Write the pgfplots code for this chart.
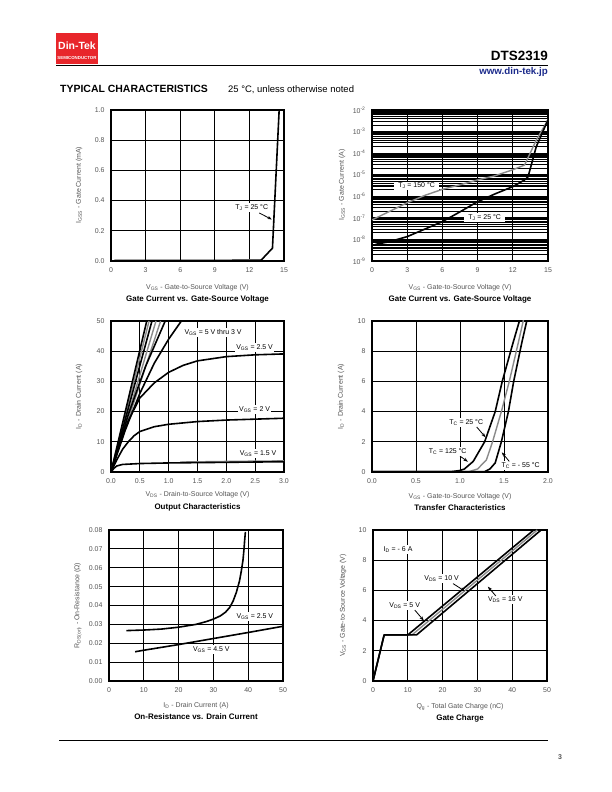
\documentclass[border=0pt]{standalone}
\usepackage{pgfplots}
\pgfplotsset{compat=1.18}
\usepackage{fontspec}
\setmainfont{Liberation Sans}
\usetikzlibrary{arrows.meta}
\definecolor{lgray}{HTML}{8A8A8A}
\definecolor{tgray}{HTML}{555555}
\definecolor{dtred}{HTML}{E8262B}
\definecolor{urlblue}{HTML}{1C2B8C}
\newcommand{\fs}[1]{\fontsize{#1}{#1}\selectfont}
\pgfplotsset{
  ds/.style={
    scale only axis, anchor=south west, height=151bp,
    axis line style={line width=1.3bp},
    grid=major, major grid style={line width=0.9bp, black},
    minor grid style={line width=1.1bp, black},
    major tick length=0pt, minor tick length=0pt,
    tick style={draw=none},
    /pgf/number format/assume math mode=true,
    tick label style={font=\fs{7}, text=tgray},
    xticklabel style={yshift=-3bp},
    yticklabel style={xshift=-3bp},
    scaled ticks=false,
  },
  crv/.style={black, line width=1.6bp, line join=round},
  grc/.style={lgray, line width=1.4bp, line join=round},
}
\tikzset{lab/.style={font=\fs{7}, fill=white, inner sep=1.5bp, text=black},
  arr/.style={-{Stealth[length=4.5bp,width=3.2bp]}, line width=0.8bp},
  xl/.style={font=\fs{7}, text=tgray},
  tl/.style={font=\bfseries\fs{8}, text=black}}
\begin{document}
\begin{tikzpicture}
\fill[white] (0,0) rectangle (612bp,792bp);
% ---------- header ----------
\fill[dtred] (56bp,728bp) rectangle (98bp,759bp);
\node[font=\bfseries\fs{10.5}, text=white] at (77bp,746.5bp) {Din-Tek};
\node[font=\bfseries\fs{4.4}, text=white] at (77bp,734bp) {SEMICONDUCTOR};
\draw[line width=1bp] (56bp,726.5bp) -- (548bp,726.5bp);
\node[font=\bfseries\fs{13.5}, anchor=base east, inner sep=0pt] at (548bp,731bp) {DTS2319};
\node[font=\bfseries\fs{9.8}, text=urlblue, anchor=base east, inner sep=0pt] at (548bp,717bp) {www.din-tek.jp};
\node[font=\bfseries\fs{10.5}, anchor=base west, inner sep=0pt] at (60bp,699bp) {TYPICAL CHARACTERISTICS};
\node[font=\fs{9.5}, anchor=base west, inner sep=0pt] at (228bp,699bp) {25 °C, unless otherwise noted};
% ---------- footer ----------
\draw[line width=1bp] (59bp,51bp) -- (548bp,51bp);
\node[font=\bfseries\fs{7}, text=tgray] at (560bp,35bp) {3};

% ---------- Plot 1 ----------
\begin{axis}[ds, at={(111bp,531bp)}, width=173bp,
  xmin=0, xmax=15, ymin=0, ymax=1,
  xtick={0,3,6,9,12,15}, ytick={0,0.2,0.4,0.6,0.8,1.0},
  yticklabels={0.0,0.2,0.4,0.6,0.8,1.0}]
\addplot[grc] coordinates {(10.5,0.008) (13,0.008)};
\addplot[crv] coordinates {(0.3,0.003) (13,0.004) (14,0.085) (14.58,1.0)};
\node[lab] at (axis cs:12.2,0.353) {T\textsubscript{J} = 25 °C};
\draw[arr] (axis cs:12.85,0.318) -- (axis cs:13.95,0.275);
\end{axis}
\node[rotate=90, xl] at (79bp,607bp) {I\textsubscript{GSS} - Gate Current (mA)};
\node[xl] at (197.5bp,504bp) {V\textsubscript{GS} - Gate-to-Source Voltage (V)};
\node[tl] at (197.5bp,492.5bp) {Gate Current vs. Gate-Source Voltage};

% ---------- Plot 2 ----------
\begin{axis}[ds, at={(372bp,531bp)}, width=176bp, ymode=log,
  xmin=0, xmax=15, ymin=1e-9, ymax=1e-2,
  xtick={0,3,6,9,12,15},
  ytick={1e-9,1e-8,1e-7,1e-6,1e-5,1e-4,1e-3,1e-2},
  yticklabels={10\textsuperscript{-9},10\textsuperscript{-8},10\textsuperscript{-7},10\textsuperscript{-6},10\textsuperscript{-5},10\textsuperscript{-4},10\textsuperscript{-3},10\textsuperscript{-2}},
  minor ytick={2e-9,3e-9,4e-9,5e-9,6e-9,7e-9,8e-9,9e-9,
    2e-8,3e-8,4e-8,5e-8,6e-8,7e-8,8e-8,9e-8,
    2e-7,3e-7,4e-7,5e-7,6e-7,7e-7,8e-7,9e-7,
    2e-6,3e-6,4e-6,5e-6,6e-6,7e-6,8e-6,9e-6,
    2e-5,3e-5,4e-5,5e-5,6e-5,7e-5,8e-5,9e-5,
    2e-4,3e-4,4e-4,5e-4,6e-4,7e-4,8e-4,9e-4,
    2e-3,3e-3,4e-3,5e-3,6e-3,7e-3,8e-3,9e-3},
  yminorgrids=true]
\addplot[grc] coordinates {(0,8e-8) (1.5,2e-7) (3,5e-7) (4.5,1.1e-6) (6,2.1e-6) (7.5,3.4e-6) (9,5.7e-6) (10.5,9e-6) (12,1.7e-5) (13,2.8e-5) (14,4e-4) (15,3.5e-3)};
\addplot[crv] coordinates {(0.3,5.9e-9) (1.5,7.9e-9) (3,1.35e-8) (4.5,3e-8) (6,6.7e-8) (7.5,1.9e-7) (9,5.6e-7) (10.5,1.3e-6) (12,2.8e-6) (13,5.7e-6) (13.3,8e-6) (14,2e-4) (15,3.5e-3)};
\node[lab, inner xsep=4bp] at (axis cs:3.8,3e-6) {T\textsubscript{J} = 150 °C};
\node[lab, inner xsep=4bp] at (axis cs:9.6,1e-7) {T\textsubscript{J} = 25 °C};
\end{axis}
\node[rotate=90, xl] at (342bp,607bp) {I\textsubscript{GSS} - Gate Current (A)};
\node[xl] at (460bp,504bp) {V\textsubscript{GS} - Gate-to-Source Voltage (V)};
\node[tl] at (460bp,492.5bp) {Gate Current vs. Gate-Source Voltage};

% ---------- Plot 3 ----------
\begin{axis}[ds, at={(111bp,320bp)}, width=173bp,
  xmin=0, xmax=3, ymin=0, ymax=50,
  xtick={0,0.5,1,1.5,2,2.5,3}, xticklabels={0.0,0.5,1.0,1.5,2.0,2.5,3.0},
  ytick={0,10,20,30,40,50}]
\addplot[grc] coordinates {(0,0) (0.66,50)};
\addplot[grc] coordinates {(0,0) (0.78,50)};
\addplot[grc] coordinates {(0,0) (0.86,50)};
\addplot[crv] coordinates {(0,0) (0.62,50)};
\addplot[crv] coordinates {(0,0) (0.71,50)};
\addplot[crv] coordinates {(0,0) (0.3,19) (0.6,35) (0.94,50)};
\addplot[crv] coordinates {(0,0) (0.25,14) (0.5,26) (0.75,36) (1.0,44) (1.22,50)};
\addplot[crv] coordinates {(0,0) (0.1,6) (0.2,12) (0.3,17) (0.5,24.5) (0.75,29.5) (1.0,33) (1.25,35.3) (1.5,36.8) (2.0,38.2) (2.5,38.8) (3.0,39.1)};
\addplot[crv] coordinates {(0,0) (0.1,4) (0.2,7.5) (0.3,10) (0.4,12) (0.5,13.4) (0.75,15) (1.0,15.8) (1.5,16.7) (2,17.2) (3,17.8)};
\addplot[grc] coordinates {(1.2,3.3) (2,3.5) (3,3.7)};
\addplot[crv] coordinates {(0,0) (0.05,1.2) (0.1,2) (0.2,2.5) (0.5,2.8) (1,3) (2,3.2) (3,3.4)};
\node[lab] at (axis cs:1.77,46.1) {V\textsubscript{GS} = 5 V thru 3 V};
\node[lab] at (axis cs:2.49,41.3) {V\textsubscript{GS} = 2.5 V};
\node[lab] at (axis cs:2.49,20.7) {V\textsubscript{GS} = 2 V};
\node[lab] at (axis cs:2.55,6.0) {V\textsubscript{GS} = 1.5 V};
\end{axis}
\node[rotate=90, xl] at (79bp,395.5bp) {I\textsubscript{D} - Drain Current (A)};
\node[xl] at (197.5bp,297bp) {V\textsubscript{DS} - Drain-to-Source Voltage (V)};
\node[tl] at (197.5bp,285bp) {Output Characteristics};

% ---------- Plot 4 ----------
\begin{axis}[ds, at={(372bp,320bp)}, width=176bp,
  xmin=0, xmax=2, ymin=0, ymax=10,
  xtick={0,0.5,1,1.5,2}, xticklabels={0.0,0.5,1.0,1.5,2.0},
  ytick={0,2,4,6,8,10}]
\addplot[grc] coordinates {(0,0.02) (1.1,0.02) (1.2,0.2) (1.3,0.8) (1.37,2) (1.47,4) (1.56,6) (1.66,8.5) (1.73,10.3)};
\addplot[crv] coordinates {(0,0.02) (0.9,0.02) (1.0,0.1) (1.05,0.2) (1.15,0.7) (1.28,2) (1.4,4) (1.48,6) (1.6,8.5) (1.69,10.3)};
\addplot[crv] coordinates {(0,0.02) (1.28,0.02) (1.34,0.2) (1.4,0.6) (1.47,2) (1.55,4) (1.61,6) (1.7,8.5) (1.77,10.3)};
\node[lab] at (axis cs:1.07,3.27) {T\textsubscript{C} = 25 °C};
\node[lab] at (axis cs:0.86,1.37) {T\textsubscript{C} = 125 °C};
\node[lab] at (axis cs:1.69,0.44) {T\textsubscript{C} = - 55 °C};
\draw[arr] (axis cs:1.19,2.98) -- (axis cs:1.29,2.3);
\draw[arr] (axis cs:1.0,1.05) -- (axis cs:1.09,0.68);
\draw[arr] (axis cs:1.56,0.7) -- (axis cs:1.475,1.3);
\end{axis}
\node[rotate=90, xl] at (341bp,395.5bp) {I\textsubscript{D} - Drain Current (A)};
\node[xl] at (460bp,295bp) {V\textsubscript{GS} - Gate-to-Source Voltage (V)};
\node[tl] at (460bp,284bp) {Transfer Characteristics};

% ---------- Plot 5 ----------
\begin{axis}[ds, at={(109bp,111bp)}, width=174bp,
  xmin=0, xmax=50, ymin=0, ymax=0.08,
  xtick={0,10,20,30,40,50},
  ytick={0,0.01,0.02,0.03,0.04,0.05,0.06,0.07,0.08},
  yticklabels={0.00,0.01,0.02,0.03,0.04,0.05,0.06,0.07,0.08}]
\addplot[crv] coordinates {(5,0.0267) (10,0.027) (15,0.0275) (20,0.0285) (25,0.030) (28,0.0315) (30,0.0328) (32,0.0345) (33.5,0.0365) (34.7,0.039) (35.7,0.0425) (36.6,0.047) (37.5,0.053) (38.0,0.058) (38.5,0.064) (38.8,0.070) (39.0,0.075) (39.2,0.079)};
\addplot[crv] coordinates {(7.5,0.0155) (10,0.0163) (20,0.0193) (30,0.0225) (40,0.0257) (50,0.029)};
\node[lab] at (axis cs:41.9,0.0341) {V\textsubscript{GS} = 2.5 V};
\node[lab] at (axis cs:29.4,0.0168) {V\textsubscript{GS} = 4.5 V};
\end{axis}
\node[rotate=90, xl] at (78bp,186.5bp) {R\textsubscript{DS(on)} - On-Resistance (Ω)};
\node[xl] at (196bp,86bp) {I\textsubscript{D} - Drain Current (A)};
\node[tl] at (196bp,75bp) {On-Resistance vs. Drain Current};

% ---------- Plot 6 ----------
\begin{axis}[ds, at={(373bp,111bp)}, width=174bp,
  xmin=0, xmax=50, ymin=0, ymax=10,
  xtick={0,10,20,30,40,50}, ytick={0,2,4,6,8,10}]
\addplot[grc] coordinates {(0,0) (3.2,3.05) (11.2,3.05) (47.2,10)};
\addplot[crv] coordinates {(0,0) (3.2,3.05) (10,3.05) (46.2,10)};
\addplot[crv] coordinates {(0,0) (3.2,3.05) (12.5,3.05) (48.3,10)};
\node[lab] at (axis cs:7.2,8.7) {I\textsubscript{D} = - 6 A};
\node[lab] at (axis cs:19.7,6.8) {V\textsubscript{DS} = 10 V};
\node[lab] at (axis cs:9.1,5.0) {V\textsubscript{DS} = 5 V};
\node[lab] at (axis cs:38,5.4) {V\textsubscript{DS} = 16 V};
\draw[arr] (axis cs:23,6.45) -- (axis cs:26.4,5.95);
\draw[arr] (axis cs:12,4.7) -- (axis cs:14.6,4.0);
\draw[arr] (axis cs:35.3,5.63) -- (axis cs:33,6.25);
\end{axis}
\node[rotate=90, xl] at (343bp,186.5bp) {V\textsubscript{GS} - Gate-to-Source Voltage (V)};
\node[xl] at (460bp,85bp) {Q\textsubscript{g} - Total Gate Charge (nC)};
\node[tl] at (460bp,74bp) {Gate Charge};
\end{tikzpicture}
\end{document}
